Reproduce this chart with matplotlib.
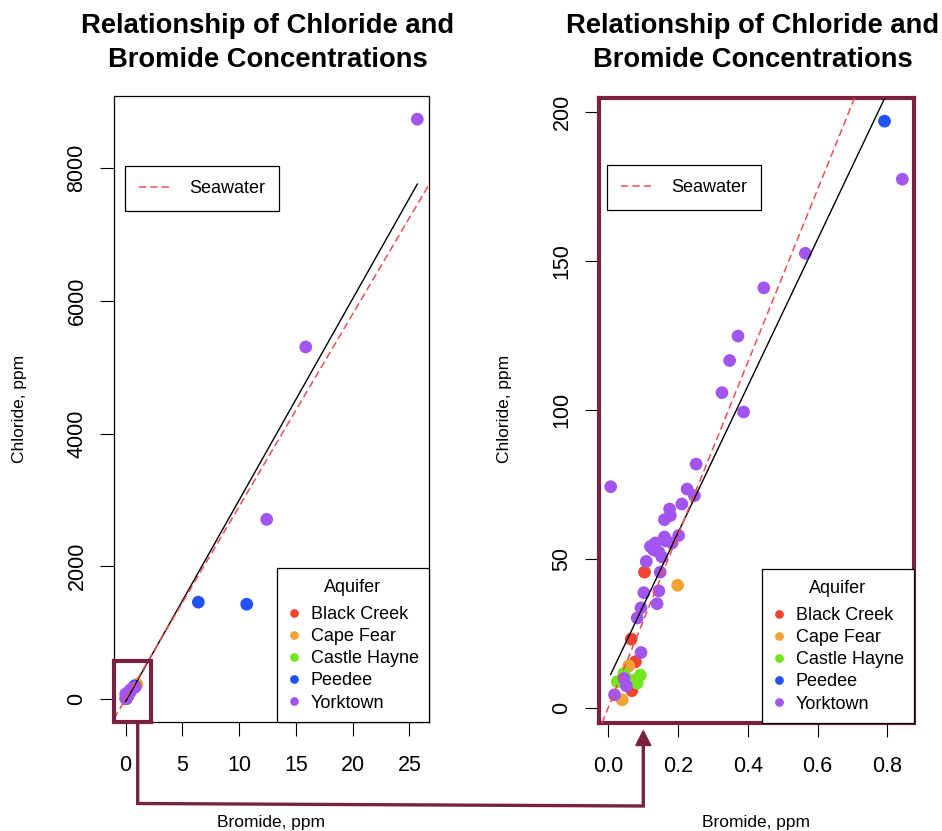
import numpy as np
import matplotlib
matplotlib.use('Agg')
import matplotlib.pyplot as plt
from matplotlib.lines import Line2D
from matplotlib.patches import Rectangle, Polygon

plt.rcParams['font.family'] = ['Liberation Sans', 'DejaVu Sans']

# --- data (bromide / chloride, ppm) ---
aquifers = ['Black Creek', 'Cape Fear', 'Castle Hayne', 'Peedee', 'Yorktown']
colors = ['#ef4530', '#f5a234', '#72e61e', '#2152f5', '#a355ef']

bromide = {
    'Black Creek': [0.104, 0.066, 0.078, 0.068, 0.074],
    'Cape Fear': [0.199, 0.059, 0.040, 1.00],
    'Castle Hayne': [0.092, 0.045, 0.026, 0.054, 0.083, 0.059],
    'Peedee': [0.792, 6.41, 10.67],
    'Yorktown': [0.843, 0.565, 0.446, 0.372, 0.348, 0.326, 0.388, 0.252,
                 0.007, 0.226, 0.247, 0.211, 0.176, 0.178, 0.161, 0.202,
                 0.161, 0.183, 0.135, 0.121, 0.145, 0.154, 0.109, 0.149,
                 0.102, 0.145, 0.140, 0.094, 0.083, 0.094, 0.045, 0.052,
                 0.018, 0.130, 0.165, 25.70, 15.87, 12.43],
}
chloride = {
    'Black Creek': [45.5, 23.0, 15.4, 5.7, 9.0],
    'Cape Fear': [41.1, 14.0, 2.6, 220.0],
    'Castle Hayne': [10.9, 11.5, 8.7, 8.7, 8.2, 9.3],
    'Peedee': [197.0, 1459.0, 1428.0],
    'Yorktown': [177.5, 152.6, 141.0, 124.8, 116.6, 105.8, 99.3, 81.8,
                 74.2, 73.4, 71.2, 68.4, 66.7, 64.5, 63.1, 57.8,
                 57.3, 55.3, 55.3, 54.1, 52.2, 50.6, 49.1, 45.5,
                 38.6, 39.2, 34.9, 33.5, 30.1, 18.5, 9.8, 7.3,
                 4.3, 53.0, 56.0, 8737.0, 5305.0, 2707.0],
}

seawater_ratio = 290.0          # Cl/Br of seawater
fit_all = (-38.0, 303.4)        # intercept, slope (all samples)
fit_zoom = (9.4, 246.5)         # intercept, slope (low-concentration samples)
zoom_cl_max = 200.0

maroon = '#7a2140'
sw_color = '#f04e4e'
W, H = 942, 831


def px_box(x0, y0, x1, y1):
    return [x0 / W, 1 - y1 / H, (x1 - x0) / W, (y1 - y0) / H]


def fx(x):
    return x / W


def fy(y):
    return 1 - y / H


fig = plt.figure(figsize=(W / 100, H / 100), dpi=100)
ax1 = fig.add_axes(px_box(114, 96, 429, 722))
ax2 = fig.add_axes(px_box(599, 98, 914, 723))


def draw(ax, keep, fit, xticks, yticks, sw_anchor):
    xs, ys = [], []
    for name, col in zip(aquifers, colors):
        x = np.array(bromide[name])
        y = np.array(chloride[name])
        m = keep(x, y)
        ax.scatter(x[m], y[m], s=84, color=col, edgecolors='none', zorder=3)
        xs.append(x[m])
        ys.append(y[m])
    x = np.concatenate(xs)
    y = np.concatenate(ys)
    # R style axis range: data range + 4%
    dx = 0.04 * (x.max() - x.min())
    dy = 0.04 * (y.max() - y.min())
    ax.set_xlim(x.min() - dx, x.max() + dx)
    ax.set_ylim(y.min() - dy, y.max() + dy)

    xx = np.array([x.min(), x.max()])
    ax.plot(xx, fit[0] + fit[1] * xx, color='black', lw=1.0, zorder=4)
    ax.axline((0, 0), slope=seawater_ratio, color=sw_color, lw=1.1,
              linestyle=(0, (4.8, 2.6)), zorder=4)

    ax.set_xticks(xticks)
    ax.set_yticks(yticks)
    ax.tick_params(axis='both', direction='out', length=10, width=0.8,
                   labelsize=15.5, top=False, right=False)
    ax.tick_params(axis='x', pad=14)
    ax.tick_params(axis='y', pad=9)
    for lab in ax.get_yticklabels():
        lab.set_rotation(90)
        lab.set_va('center')

    sw = Line2D([], [], color=sw_color, lw=1.1, linestyle=(0, (4.8, 2.6)))
    leg1 = ax.legend([sw], ['Seawater'], loc='upper left',
                     bbox_to_anchor=sw_anchor, borderaxespad=0, fontsize=13,
                     fancybox=False, edgecolor='black', framealpha=1,
                     borderpad=0.78, handlelength=1.9, handletextpad=0.85)
    leg1.get_frame().set_linewidth(0.9)
    ax.add_artist(leg1)

    handles = [Line2D([], [], ls='none', marker='o', ms=6.3, color=c,
                      markeredgewidth=0) for c in colors]
    leg2 = ax.legend(handles, aquifers, title='Aquifer', loc='lower right',
                     bbox_to_anchor=(1, 0), borderaxespad=0, fontsize=13,
                     title_fontsize=13, fancybox=False, edgecolor='black',
                     framealpha=1, borderpad=0.58, handlelength=0.8,
                     handletextpad=0.5, labelspacing=0.28)
    leg2.get_frame().set_linewidth(0.9)
    # a little more room under the "Aquifer" title, like the R legend
    leg2._legend_box.sep += 4


draw(ax1, lambda x, y: np.ones_like(x, dtype=bool), fit_all,
     [0, 5, 10, 15, 20, 25], [0, 2000, 4000, 6000, 8000],
     ((125 - 114) / 315, (722 - 166) / 626))
draw(ax2, lambda x, y: y < zoom_cl_max, fit_zoom,
     [0.0, 0.2, 0.4, 0.6, 0.8], [0, 50, 100, 150, 200],
     ((607 - 599) / 315, (723 - 165) / 625))
ax2.set_xticklabels(['0.0', '0.2', '0.4', '0.6', '0.8'])

for sp in ax1.spines.values():
    sp.set_linewidth(0.9)
for sp in ax2.spines.values():
    sp.set_color(maroon)
    sp.set_linewidth(3.0)

# zoom window marker on the left panel
ax1.add_patch(Rectangle((0, 0), (150.7 - 114) / 315, (722 - 660.7) / 626,
                        transform=ax1.transAxes, fill=False, ec=maroon,
                        lw=3.0, clip_on=False, zorder=6))

# connector arrow between the panels
fig.add_artist(Line2D([fx(137.7), fx(137.7), fx(643.3), fx(643.3)],
                      [fy(722), fy(803.5), fy(806), fy(744)],
                      transform=fig.transFigure, color=maroon, lw=2.4,
                      solid_joinstyle='miter'))
fig.add_artist(Polygon([(fx(635.8), fy(745.5)), (fx(650.8), fy(745.5)),
                        (fx(643.3), fy(730.7))], closed=True,
                       transform=fig.transFigure, color=maroon))

# titles and axis labels
for cx in (267.5, 752.5):
    fig.text(fx(cx), fy(33.3), 'Relationship of Chloride and', fontsize=19.7,
             weight='bold', ha='center', va='baseline')
    fig.text(fx(cx), fy(66.7), 'Bromide Concentrations', fontsize=19.7,
             weight='bold', ha='center', va='baseline')
for cx in (20, 505):
    fig.text(fx(cx), fy(409), 'Chloride, ppm', rotation=90, fontsize=12.5,
             ha='center', va='center')
for cx in (271, 756):
    fig.text(fx(cx), fy(826.7), 'Bromide, ppm', fontsize=12.5,
             ha='center', va='baseline')

fig.savefig('out.png', dpi=100)
